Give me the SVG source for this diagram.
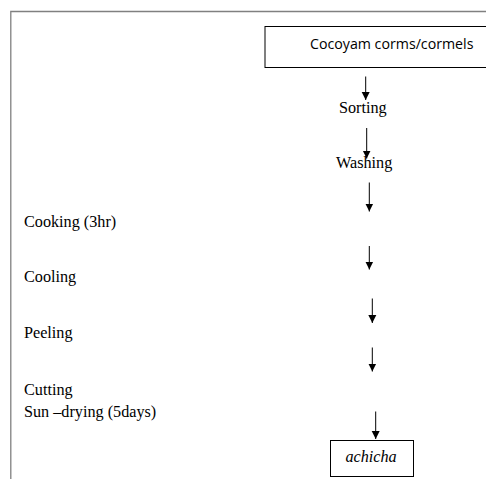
<svg xmlns="http://www.w3.org/2000/svg" width="486" height="479" viewBox="0 0 486 479">
<style>
.t{font-family:"Liberation Serif",serif;font-size:16.2px;fill:#000}
.s{font-family:"Open Sans","Liberation Sans",sans-serif;font-size:14.2px;fill:#000}
.box{fill:#fff;stroke:#000;stroke-width:1}
.c{stroke:#000;stroke-width:1;fill:none}
.frame{stroke:#808080;stroke-width:1.3;fill:none}
</style>
<defs>
<marker id="a" markerWidth="8" markerHeight="9" refX="8" refY="4" orient="auto" markerUnits="userSpaceOnUse" viewBox="0 0 8 8">
<path d="M0,0 L8,4 L0,8 Z" fill="#000"/>
</marker>
</defs>
<rect width="486" height="479" fill="#fff"/>
<path class="frame" d="M486,11.5 H10.8 V479"/>
<g id="n-cocoyam">
<rect class="box" x="265" y="26.5" width="230" height="41"/>
<text class="s" x="310" y="48.5">Cocoyam corms/cormels</text>
</g>
<g id="n-sorting"><text class="t" x="339" y="112.5">Sorting</text></g>
<g id="n-washing"><text class="t" x="336" y="168">Washing</text></g>
<g id="n-cooking"><text class="t" x="24" y="226.5">Cooking (3hr)</text></g>
<g id="n-cooling"><text class="t" x="24" y="281.5">Cooling</text></g>
<g id="n-peeling"><text class="t" x="24" y="338">Peeling</text></g>
<g id="n-cutting"><text class="t" x="24" y="395">Cutting</text></g>
<g id="n-sundrying"><text class="t" x="24" y="416.5">Sun –drying (5days)</text></g>
<g id="n-achicha">
<rect class="box" x="330.5" y="440.5" width="83" height="36"/>
<text class="t" x="371" y="462" text-anchor="middle" font-style="italic" font-size="18">achicha</text>
</g>
<g id="connectors">
<line class="c" x1="365.7" y1="76.5" x2="365.7" y2="100" marker-end="url(#a)"/>
<line class="c" x1="366.7" y1="128" x2="366.7" y2="158.5" marker-end="url(#a)"/>
<line class="c" x1="369.3" y1="182.5" x2="369.3" y2="211.5" marker-end="url(#a)"/>
<line class="c" x1="369.3" y1="246" x2="369.3" y2="269.5" marker-end="url(#a)"/>
<line class="c" x1="372.3" y1="298.5" x2="372.3" y2="323" marker-end="url(#a)"/>
<line class="c" x1="372.3" y1="347.5" x2="372.3" y2="371.5" marker-end="url(#a)"/>
<line class="c" x1="375.7" y1="411.5" x2="375.7" y2="439" marker-end="url(#a)"/>
</g>
</svg>
